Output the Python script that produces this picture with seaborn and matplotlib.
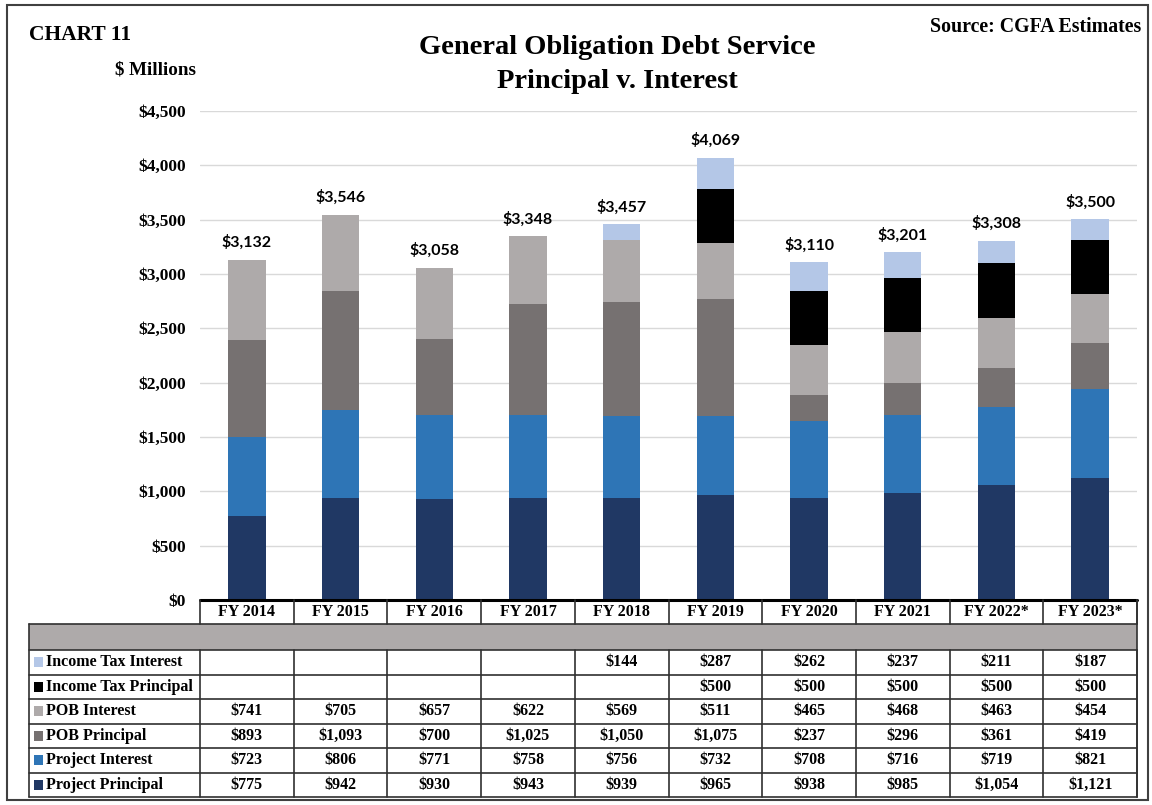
import numpy as np
import seaborn as sns
import matplotlib.pyplot as plt
from matplotlib.patches import Rectangle

# Data ($ millions)
years = ['FY 2014', 'FY 2015', 'FY 2016', 'FY 2017', 'FY 2018',
         'FY 2019', 'FY 2020', 'FY 2021', 'FY 2022*', 'FY 2023*']
project_principal = [775, 942, 930, 943, 939, 965, 938, 985, 1054, 1121]
project_interest = [723, 806, 771, 758, 756, 732, 708, 716, 719, 821]
pob_principal = [893, 1093, 700, 1025, 1050, 1075, 237, 296, 361, 419]
pob_interest = [741, 705, 657, 622, 569, 511, 465, 468, 463, 454]
itax_principal = [np.nan, np.nan, np.nan, np.nan, np.nan, 500, 500, 500, 500, 500]
itax_interest = [np.nan, np.nan, np.nan, np.nan, 144, 287, 262, 237, 211, 187]
totals = [3132, 3546, 3058, 3348, 3457, 4069, 3110, 3201, 3308, 3500]

# bottom -> top
series = [
    ('Project Principal', project_principal, '#203864'),
    ('Project Interest', project_interest, '#2E75B6'),
    ('POB Principal', pob_principal, '#767171'),
    ('POB Interest', pob_interest, '#AEAAAA'),
    ('Income Tax Principal', itax_principal, '#000000'),
    ('Income Tax Interest', itax_interest, '#B4C7E7'),
]

sns.set_theme(style='white')
plt.rcParams['font.family'] = ['Liberation Serif', 'DejaVu Serif']
plt.rcParams['font.weight'] = 'bold'
plt.rcParams['text.color'] = 'black'
plt.rcParams['ytick.color'] = 'black'
plt.rcParams['xtick.color'] = 'black'

W, H = 1152, 805
fig = plt.figure(figsize=(W / 100, H / 100), dpi=100)

# main axes (pixels: x 200..1137, y 111..600)
ax = fig.add_axes([200 / W, (H - 600) / H, 937 / W, 489 / H])

bottom = np.zeros(len(years))
for name, vals, col in series:
    v = np.nan_to_num(np.array(vals, dtype=float))
    sns.barplot(x=years, y=v, order=years, color=col, saturation=1,
                width=0.4, bottom=bottom, errorbar=None, linewidth=0, ax=ax)
    bottom = bottom + v

for i, t in enumerate(totals):
    ax.annotate(f'${t:,.0f}', (i, bottom[i]), xytext=(0, 7),
                textcoords='offset points', ha='center', va='bottom',
                fontsize=11.5, fontweight='bold', family=['Lato', 'DejaVu Sans'],
                color='black')

ax.set_xlim(-0.5, len(years) - 0.5)
ax.set_ylim(0, 4500)
ax.set_yticks(range(0, 4501, 500))
ax.set_yticklabels([f'${v:,.0f}' for v in range(0, 4501, 500)])
ax.tick_params(axis='y', length=0, pad=10, labelsize=12.5)
ax.set_xticks([])
ax.set_xlabel('')
ax.set_ylabel('')
ax.yaxis.grid(True, color='#D9D9D9', linewidth=1)
ax.set_axisbelow(True)
for s in ax.spines.values():
    s.set_visible(False)

# table axes (pixels: x 29..1137, y 600..798)
tax = fig.add_axes([29 / W, (H - 798) / H, 1108 / W, 198 / H])
x0 = -0.5 - 171 / 93.7
tax.set_xlim(x0, len(years) - 0.5)
tax.set_ylim(198, 0)
tax.axis('off')

row_edges = [0, 24, 50, 74.5, 99, 123.5, 148, 172.5, 197]
lc = '#303030'
tax.add_patch(Rectangle((x0, 24), len(years) - 0.5 - x0, 26, color='#AEAAAA', lw=0))
tax.plot([-0.5, len(years) - 0.5], [0, 0], color='black', lw=2.2, clip_on=False)
for y in row_edges[1:]:
    tax.plot([x0, len(years) - 0.5], [y, y], color=lc, lw=1.2, clip_on=False)
for k in range(len(years) + 1):
    xx = k - 0.5
    tax.plot([xx, xx], [0, 24], color=lc, lw=1.2, clip_on=False)
    tax.plot([xx, xx], [50, 197], color=lc, lw=1.2, clip_on=False)
tax.plot([len(years) - 0.5] * 2, [0, 197], color=lc, lw=1.2, clip_on=False)
tax.plot([x0, x0], [24, 197], color=lc, lw=1.2, clip_on=False)

for i, yr in enumerate(years):
    tax.text(i, 12, yr, ha='center', va='center', fontsize=11.5, fontweight='bold')

for r, (name, vals, col) in enumerate(reversed(series)):
    yc = (row_edges[r + 2] + row_edges[r + 3]) / 2
    tax.add_patch(Rectangle((x0 + 5 / 93.7, yc - 5), 9 / 93.7, 10, color=col, lw=0))
    tax.text(x0 + 17 / 93.7, yc, name, ha='left', va='center', fontsize=11.5, fontweight='bold')
    for i, v in enumerate(vals):
        if not np.isnan(v):
            tax.text(i, yc, f'${v:,.0f}', ha='center', va='center', fontsize=11.5, fontweight='bold')

# titles and notes
fig.text(617 / W, 1 - 48 / H, 'General Obligation Debt Service', ha='center', va='center',
         fontsize=20.5, fontweight='bold')
fig.text(617 / W, 1 - 81 / H, 'Principal v. Interest', ha='center', va='center',
         fontsize=20.5, fontweight='bold')
fig.text(29 / W, 1 - 35 / H, 'CHART 11', ha='left', va='center', fontsize=15.5, fontweight='bold')
fig.text(115 / W, 1 - 70 / H, '$ Millions', ha='left', va='center', fontsize=13.7, fontweight='bold')
fig.text(1141 / W, 1 - 27 / H, 'Source: CGFA Estimates', ha='right', va='center',
         fontsize=14.3, fontweight='bold')

# outer frame
fig.patches.append(Rectangle((7 / W, 5 / H), 1141 / W, 795 / H, transform=fig.transFigure,
                             fill=False, edgecolor='#404040', lw=1.5))

fig.savefig('out.png', dpi=100)
